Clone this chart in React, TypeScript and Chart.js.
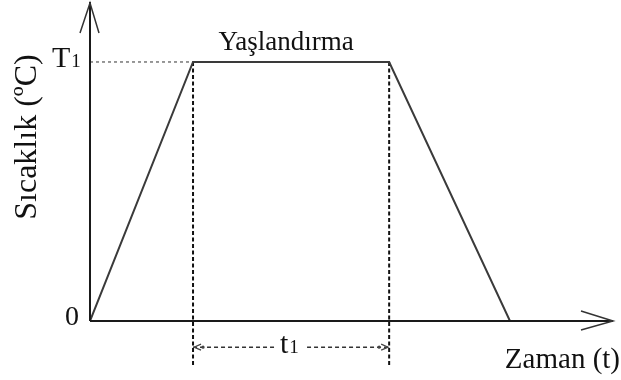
import { useEffect, useRef } from "react";
import { Chart, registerables } from "chart.js";

Chart.register(...registerables);

// Process profile (time in relative units, temperature in relative units)
const timePoints = [0, 19.7, 57.2, 80.3];
const temperature = [0, 81.2, 81.2, 0];
const T1 = 81.2;
const agingStart = 19.7;
const agingEnd = 57.2;
const guideBottom = -13.8;
const dimLevel = -8.2;
const dimGapStart = 35.4;
const dimGapEnd = 41.5;
const xMax = 100;
const yMax = 100;

const SERIF = "'Liberation Serif', 'Times New Roman', serif";

const decorPlugin = {
  id: "decor",
  afterDatasetsDraw(chart: any) {
    const { ctx, chartArea: a, scales } = chart;
    const x = scales.x;
    const y = scales.y;
    const x0 = x.getPixelForValue(0);
    const y0 = y.getPixelForValue(0);
    ctx.save();
    // axes
    ctx.strokeStyle = "#1a1a1a";
    ctx.lineWidth = 2;
    ctx.beginPath();
    ctx.moveTo(x0, y0);
    ctx.lineTo(x0, a.top);
    ctx.moveTo(x0, y0);
    ctx.lineTo(a.right, y0);
    ctx.stroke();
    // axis arrowheads
    ctx.lineWidth = 1.5;
    ctx.strokeStyle = "#333";
    ctx.beginPath();
    ctx.moveTo(x0 - 10, a.top + 31);
    ctx.lineTo(x0, a.top + 1);
    ctx.lineTo(x0 + 9, a.top + 31);
    ctx.moveTo(a.right - 32, y0 - 10);
    ctx.lineTo(a.right, y0);
    ctx.lineTo(a.right - 32, y0 + 9);
    ctx.stroke();

    // dimension arrowheads
    const xs = x.getPixelForValue(agingStart);
    const xe = x.getPixelForValue(agingEnd);
    const yd = y.getPixelForValue(dimLevel);
    ctx.lineWidth = 1.2;
    ctx.strokeStyle = "#444";
    ctx.beginPath();
    ctx.moveTo(xs + 8, yd - 3);
    ctx.lineTo(xs + 1, yd);
    ctx.lineTo(xs + 8, yd + 3);
    ctx.moveTo(xe - 8, yd - 3);
    ctx.lineTo(xe - 1, yd);
    ctx.lineTo(xe - 8, yd + 3);
    ctx.stroke();
    ctx.fillStyle = "#444";
    ctx.beginPath();
    ctx.arc(xs + 10, yd, 1.6, 0, Math.PI * 2);
    ctx.arc(xe - 10, yd, 1.6, 0, Math.PI * 2);
    ctx.fill();

    // texts
    ctx.fillStyle = "#111";
    ctx.textBaseline = "alphabetic";
    const yT1 = y.getPixelForValue(T1);
    ctx.textAlign = "left";
    ctx.font = `30px ${SERIF}`;
    ctx.fillText("T", 52, yT1 + 5);
    const tw = ctx.measureText("T").width;
    ctx.font = `19px ${SERIF}`;
    ctx.fillText("1", 52 + tw + 1, yT1 + 5);

    ctx.font = `28px ${SERIF}`;
    ctx.fillText("0", 65, y0 + 4);

    ctx.font = `30px ${SERIF}`;
    const sw = ctx.measureText("t").width;
    ctx.fillText("t", 280, yd + 6);
    ctx.font = `19px ${SERIF}`;
    ctx.fillText("1", 280 + sw + 1, yd + 6);

    ctx.textAlign = "center";
    ctx.font = `27px ${SERIF}`;
    ctx.fillText("Yaşlandırma", (xs + xe) / 2 - 5, yT1 - 12);

    ctx.textAlign = "right";
    ctx.font = `29px ${SERIF}`;
    ctx.fillText("Zaman (t)", 620, 368);

    ctx.save();
    ctx.translate(28, 137);
    ctx.rotate(-Math.PI / 2);
    ctx.textAlign = "center";
    ctx.textBaseline = "middle";
    ctx.font = `32px ${SERIF}`;
    ctx.fillText("Sıcaklık (ºC)", 0, 0);
    ctx.restore();

    ctx.restore();
  },
};

export default function App() {
  const ref = useRef<HTMLCanvasElement | null>(null);
  useEffect(() => {
    if (!ref.current) return;
    const profile = timePoints.map((t, i) => ({ x: t, y: temperature[i] }));
    const chart = new Chart(ref.current, {
      type: "line",
      data: {
        datasets: [
          {
            data: profile,
            borderColor: "#3a3a3a",
            borderWidth: 2,
            pointRadius: 0,
            tension: 0,
          },
          {
            data: [{ x: 0, y: T1 }, { x: agingStart, y: T1 }],
            borderColor: "#777",
            borderWidth: 1.5,
            borderDash: [3, 3],
            pointRadius: 0,
          },
          {
            data: [{ x: agingStart, y: T1 }, { x: agingStart, y: guideBottom }],
            borderColor: "#111",
            borderWidth: 2,
            borderDash: [4, 2.5],
            pointRadius: 0,
            clip: false,
          },
          {
            data: [{ x: agingEnd, y: T1 }, { x: agingEnd, y: guideBottom }],
            borderColor: "#111",
            borderWidth: 2,
            borderDash: [4, 2.5],
            pointRadius: 0,
            clip: false,
          },
          {
            data: [{ x: agingStart, y: dimLevel }, { x: dimGapStart, y: dimLevel }],
            borderColor: "#333",
            borderWidth: 1.5,
            borderDash: [4, 3],
            pointRadius: 0,
            clip: false,
          },
          {
            data: [{ x: dimGapEnd, y: dimLevel }, { x: agingEnd, y: dimLevel }],
            borderColor: "#333",
            borderWidth: 1.5,
            borderDash: [4, 3],
            pointRadius: 0,
            clip: false,
          },
        ] as any,
      },
      options: {
        animation: false,
        responsive: false,
        events: [],
        layout: { padding: { left: 90, right: 8, top: 2, bottom: 59 } },
        plugins: { legend: { display: false }, tooltip: { enabled: false }, title: { display: false } },
        scales: {
          x: { type: "linear", min: 0, max: xMax, display: false },
          y: { type: "linear", min: 0, max: yMax, display: false },
        },
      },
      plugins: [decorPlugin],
    });
    return () => chart.destroy();
  }, []);
  return (
    <div style={{ position: "fixed", left: 0, top: 0, width: 621, height: 380, background: "#fff" }}>
      <canvas ref={ref} width={621} height={380} style={{ display: "block" }} />
    </div>
  );
}
